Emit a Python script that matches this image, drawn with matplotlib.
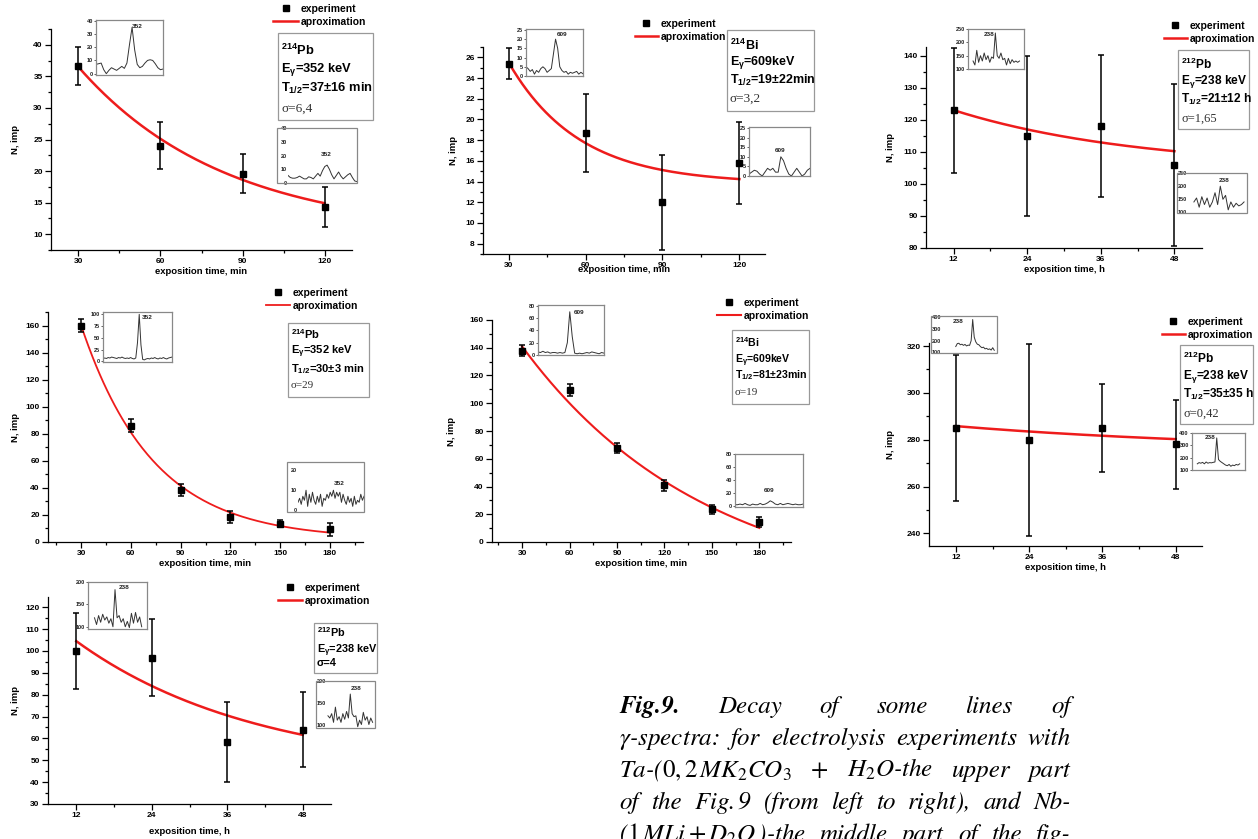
import numpy as np
import matplotlib
matplotlib.use('Agg')
import matplotlib.pyplot as plt
from matplotlib.patches import Rectangle
from matplotlib.ticker import AutoMinorLocator

W, H = 1258, 839

plt.rcParams['font.family'] = ['Liberation Sans', 'DejaVu Sans']
plt.rcParams['font.weight'] = 'normal'
plt.rcParams['mathtext.fontset'] = 'custom'
plt.rcParams['mathtext.rm'] = 'Liberation Sans:bold'
plt.rcParams['mathtext.it'] = 'Liberation Sans:bold'
plt.rcParams['mathtext.bf'] = 'Liberation Sans:bold'

# exposition times
t_min = [30, 60, 90, 120]
t_min6 = [30, 60, 90, 120, 150, 180]
t_hour = [12, 24, 36, 48]

# upper row: Ta-(0,2 M K2CO3 + H2O)
n_pb352_ta = [36.7, 24.0, 19.6, 14.3]
e_pb352_ta = [3.0, 3.7, 3.1, 3.2]
n_bi609_ta = [25.4, 18.7, 12.0, 15.8]
e_bi609_ta = [1.5, 3.8, 4.6, 4.0]
n_pb238_ta = [123, 115, 118, 106]
e_pb238_ta = [19.5, 25, 22.2, 25.3]
# middle row: Nb-(1 M Li + D2O)
n_pb352_nb = [160, 86, 38.5, 18.5, 13.5, 9.5]
e_pb352_nb = [5, 5, 4.5, 4.5, 2.5, 4.8]
n_bi609_nb = [138, 109.5, 67.5, 41, 23.5, 14.5]
e_bi609_nb = [4, 4.2, 3.5, 4, 3.5, 3.5]
n_pb238_nb = [285, 280, 285, 278]
e_pb238_nb = [31, 41, 19, 19]
# bottom row
n_pb238_c = [100, 97, 58.5, 64]
e_pb238_c = [17.5, 17.5, 18.3, 17.3]

# approximation: background, amplitude at first point, half-life
fit_pb352_ta = (10.0, 26.5, 37)
fit_bi609_ta = (13.8, 11.7, 19)
fit_pb238_ta = (104.6, 18.4, 21)
fit_pb352_nb = (2.0, 158, 30)
fit_bi609_nb = (-40, 181, 81)
fit_pb238_nb = (274.9, 10.9, 35)
fit_pb238_c = (44.5, 60, 19.9)

# small spectra (counts per channel around the line)
spec_pb352_ta_a = [7, 7.5, 8, 3, 0, 2.5, 4.5, 3.5, 2.5, 4, 5.5, 4, 8, 22, 35, 18, 7, 4.5, 5.5, 8, 10,
                   10.5, 10, 7.5, 4.5, 3, 3.5]
spec_pb352_ta_b = [5.5, 4, 3.5, 3.5, 4, 5, 4, 3, 3, 4.5, 4, 3, 5, 7, 5, 9, 12, 13, 10, 6, 3, 5.5, 8, 5, 3,
                   4.5, 6, 7, 4, 1.5, 1]
spec_bi609_ta_a = [5, 4, 2.5, 3.5, 1, 3, 2, 4, 5, 4, 2, 3, 4, 12, 20, 15, 5, 3, 2, 2.5, 1, 2, 1.5, 2, 2.5,
                   1, 2, 1.2]
spec_bi609_ta_b = [1, 2, 3, 2.5, 1, 0, 2, 4, 3, 4, 2, 2, 10, 8, 4, 1, 0, 2, 4, 2, 0, 1, 3, 4]
spec_pb238_ta_a = [130, 115, 170, 125, 150, 130, 160, 135, 150, 125, 145, 140, 235, 150, 140, 160, 135,
                   140, 115, 140, 120, 135, 125, 130, 125, 130]
spec_pb238_ta_b = [140, 155, 120, 160, 130, 155, 120, 140, 175, 130, 200, 150, 165, 110, 140, 120, 135,
                   125, 130, 140]
spec_pb352_nb_a = [6, 7, 6, 8, 7, 9, 8, 7, 6, 8, 7, 9, 7, 6, 7, 6, 8, 6, 5, 7, 40, 100, 35, 4, 3, 5, 6, 5,
                   7, 6, 8, 6, 5, 7, 6, 8, 6, 5, 7, 8, 9]
spec_pb352_nb_b = [4, 6, 3, 7, 5, 10, 2, 8, 4, 9, 5, 3, 7, 4, 8, 2, 6, 5, 8, 6, 9, 7, 10, 6, 9, 7, 9, 4,
                   8, 5, 3, 7, 4, 6, 2, 7, 3, 5, 4, 8, 5, 7]
spec_bi609_nb_a = [5, 4, 6, 4, 5, 3, 4, 4, 3, 4, 3, 4, 20, 70, 30, 3, 2, 3, 2, 3, 4, 3, 5, 4, 3, 2, 4, 3]
spec_bi609_nb_b = [2, 2, 3, 2, 4, 2, 1, 3, 2, 2, 4, 2, 3, 5, 8, 6, 3, 2, 4, 2, 3, 4, 3, 2, 3, 2, 2, 3]
spec_pb238_nb_a = [150, 175, 178, 165, 170, 160, 168, 155, 162, 160, 200, 380, 230, 190, 170, 165, 150,
                   140, 145, 130, 135, 125, 130, 120, 140, 118]
spec_pb238_nb_b = [150, 160, 155, 162, 150, 165, 155, 160, 158, 162, 165, 360, 185, 170, 160, 150, 140,
                   135, 145, 130, 140, 135, 145, 140, 150]
spec_pb238_c_a = [120, 105, 125, 110, 128, 115, 122, 108, 118, 100, 183, 120, 125, 110, 118, 100, 112,
                  98, 130, 108, 132, 110, 122, 100]
spec_pb238_c_b = [120, 115, 125, 105, 140, 110, 118, 105, 125, 112, 130, 115, 170, 125, 118, 120, 95,
                  110, 100, 128, 110, 118, 100, 115, 105]

fig = plt.figure(figsize=(W / 100, H / 100), dpi=100)
all_axes = []


def rect(l, t, r, b):
    return [l / W, 1 - b / H, (r - l) / W, (b - t) / H]


def fx(x):
    return x / W


def fy(y):
    return 1 - y / H


def frame(l, t, r, b, color='#999999'):
    fig.add_artist(Rectangle((fx(l), fy(b)), (r - l) / W, (b - t) / H, transform=fig.transFigure,
                             fill=False, edgecolor=color, lw=0.9))


def panel(box, xlim, ylim, xticks, yticks, t, n, err, fit, xlabel, xlab_y, ylab_x, lw, leg):
    l, tp, r, b = box
    ax = fig.add_axes(rect(*box))
    ax.errorbar(t, n, yerr=err, fmt='none', ecolor='black', elinewidth=1.1, capsize=2.5,
                capthick=1.1, zorder=3)
    pts, = ax.plot(t, n, 's', color='black', ms=4.5, zorder=4, label='experiment')
    y0, amp, half = fit
    tt = np.linspace(t[0], t[-1], 200)
    curve, = ax.plot(tt, y0 + amp * 0.5 ** ((tt - t[0]) / half), color='#ee1c1c', lw=lw,
                     zorder=2, label='aproximation')
    ax.set_xlim(xlim)
    ax.set_ylim(ylim)
    ax.set_xticks(xticks)
    ax.set_yticks(yticks)
    ax.xaxis.set_minor_locator(AutoMinorLocator(2))
    ax.yaxis.set_minor_locator(AutoMinorLocator(2))
    for s in ['top', 'right']:
        ax.spines[s].set_visible(False)
    for s in ['left', 'bottom']:
        ax.spines[s].set_linewidth(0.9)
    ax.tick_params(which='both', direction='out', labelsize=6, width=0.9, pad=2)
    ax.tick_params(which='major', length=4)
    ax.tick_params(which='minor', length=2)
    fig.text(fx((l + r) / 2), fy(xlab_y), xlabel, ha='center', va='center', fontsize=6.8,
             weight='bold')
    fig.text(fx(ylab_x), fy((tp + b) / 2), 'N, imp', ha='center', va='center', rotation=90,
             fontsize=6.8, weight='bold')
    lx, ly, hl = leg
    ax.legend(handles=[pts, curve], loc='upper left', bbox_to_anchor=(fx(lx), fy(ly)),
              bbox_transform=fig.transFigure, frameon=False, prop={'size': 7.5, 'weight': 'bold'},
              handlelength=hl, handletextpad=0.25, labelspacing=0.3, borderpad=0, borderaxespad=0)
    all_axes.append(ax)
    return ax


def inset(box, spec, ylim, yticks, label, lpos, inside=False, pads=(0.0, 0.0)):
    l, t, r, b = box
    if inside:
        frame(l, t, r, b, '#888888')
        ax = fig.add_axes(rect(l + 11, t, r, b))
        ax.patch.set_alpha(0)
        for s in ax.spines.values():
            s.set_visible(False)
    else:
        ax = fig.add_axes(rect(l, t, r, b))
        for s in ax.spines.values():
            s.set_color('#888888')
            s.set_linewidth(0.9)
    span = len(spec) - 1
    inner = 1 - pads[0] - pads[1]
    ax.plot(range(len(spec)), spec, color='#333333', lw=0.7)
    ax.set_xlim(-span * pads[0] / inner, span + span * pads[1] / inner)
    ax.set_ylim(ylim)
    ax.set_yticks(yticks)
    ax.set_xticks([])
    ax.tick_params(axis='y', labelsize=4, length=0 if inside else 1.5, pad=0.8, width=0.5,
                   colors='#222222')
    ax.text(lpos[0], lpos[1], label, transform=ax.transAxes, fontsize=4.6, ha='center',
            va='center', color='#222222', weight='bold')
    all_axes.append(ax)
    return ax


def info(box, lines, fs, sfs, bold_sigma=False):
    l, t, r, b = box
    frame(l, t, r, b)
    for txt, y, kind in lines:
        if kind == 'b' or bold_sigma:
            fig.text(fx(l + 3), fy(y), txt, fontsize=fs, va='baseline', ha='left', weight='bold')
        else:
            fig.text(fx(l + 3), fy(y), txt, fontsize=sfs, va='baseline', ha='left',
                     family='Liberation Serif', weight='normal', color='#333333')


# ---- upper row
panel((51, 29, 352, 250), (20, 130), (7.5, 42.5), t_min, [10, 15, 20, 25, 30, 35, 40],
      t_min, n_pb352_ta, e_pb352_ta, fit_pb352_ta, 'exposition time, min', 271, 15, 1.8,
      (273, 4, 2.4))
inset((96, 20, 163, 75), spec_pb352_ta_a, (-1, 40.5), [0, 10, 20, 30, 40], '352', (0.62, 0.88))
inset((277, 128, 357, 183), spec_pb352_ta_b, (0, 40), [0, 10, 20, 30, 40], '352', (0.55, 0.52),
      inside=True)
info((278, 33, 373, 120), [(r'$^{214}$Pb', 55, 'b'), (r'E$_\gamma$=352 keV', 72, 'b'),
                           (r'T$_{1/2}$=37±16 min', 92, 'b'), ('σ=6,4', 112, 's')], 9.3, 9.5)

panel((483, 47, 765, 254), (20, 130), (7, 27), t_min, [8, 10, 12, 14, 16, 18, 20, 22, 24, 26],
      t_min, n_bi609_ta, e_bi609_ta, fit_bi609_ta, 'exposition time, min', 270, 453, 1.8,
      (635, 19, 2.2))
inset((526, 29, 583, 76), spec_bi609_ta_a, (0, 25.5), [0, 5, 10, 15, 20, 25], '609', (0.63, 0.88))
inset((749, 127, 810, 176), spec_bi609_ta_b, (0, 25.5), [0, 5, 10, 15, 20, 25], '609', (0.51, 0.53))
info((727, 30, 814, 111), [(r'$^{214}$Bi', 50, 'b'), (r'E$_\gamma$=609keV', 65, 'b'),
                           (r'T$_{1/2}$=19±22min', 84, 'b'), ('σ=3,2', 102, 's')], 9.0, 9.5)

panel((926, 47, 1202, 248), (7.5, 52.5), (80, 142.7), t_hour, [80, 90, 100, 110, 120, 130, 140],
      t_hour, n_pb238_ta, e_pb238_ta, fit_pb238_ta, 'exposition time, h', 269, 890, 1.8,
      (1164, 21, 2.2))
inset((968, 29, 1024, 69), spec_pb238_ta_a, (100, 250), [100, 150, 200, 250], '238', (0.38, 0.87),
      pads=(0.09, 0.08))
inset((1177, 173, 1247, 213), spec_pb238_ta_b, (98, 250), [100, 150, 200, 250], '238', (0.62, 0.81),
      inside=True, pads=(0.1, 0.05))
info((1178, 50, 1249, 129), [(r'$^{212}$Pb', 69, 'b'), (r'E$_\gamma$=238 keV', 84, 'b'),
                             (r'T$_{1/2}$=21±12 h', 103, 'b'), ('σ=1,65', 122, 's')], 8.6, 9)

# ---- middle row
panel((48, 312, 363, 542), (10, 200), (0, 170), t_min6, [0, 20, 40, 60, 80, 100, 120, 140, 160],
      t_min6, n_pb352_nb, e_pb352_nb, fit_pb352_nb, 'exposition time, min', 564, 15, 1.3,
      (266, 288, 2.3))
inset((103, 312, 172, 362), spec_pb352_nb_a, (-1.5, 105), [0, 25, 50, 75, 100], '352', (0.64, 0.89))
inset((287, 462, 364, 512), spec_pb352_nb_b, (-0.8, 24), [0, 10, 20], '352', (0.62, 0.57),
      inside=True)
info((288, 323, 369, 397), [(r'$^{214}$Pb', 339, 'b'), (r'E$_\gamma$=352 keV', 354, 'b'),
                            (r'T$_{1/2}$=30±3 min', 372, 'b'), ('σ=29', 388, 's')], 8.0, 8)

panel((492, 320, 791, 542), (11, 200), (0, 160), t_min6, [0, 20, 40, 60, 80, 100, 120, 140, 160],
      t_min6, n_bi609_nb, e_bi609_nb, fit_bi609_nb, 'exposition time, min', 564, 452, 1.5,
      (717, 298, 2.3))
inset((538, 305, 604, 355), spec_bi609_nb_a, (0, 81), [0, 20, 40, 60, 80], '609', (0.62, 0.86))
inset((735, 454, 803, 507), spec_bi609_nb_b, (-1.5, 80), [0, 20, 40, 60, 80], '609', (0.5, 0.32))
info((732, 330, 809, 404), [(r'$^{214}$Bi', 347, 'b'), (r'E$_\gamma$=609keV', 363, 'b'),
                            (r'T$_{1/2}$=81±23min', 378, 'b'), ('σ=19', 395, 's')], 7.6, 8)

panel((929, 343, 1202, 546), (7.6, 52.3), (234.6, 321.3), t_hour, [240, 260, 280, 300, 320],
      t_hour, n_pb238_nb, e_pb238_nb, fit_pb238_nb, 'exposition time, h', 567, 890, 1.8,
      (1162, 317, 2.2))
inset((931, 316, 997, 353), spec_pb238_nb_a, (95, 410), [100, 200, 300, 400], '238', (0.3, 0.85),
      inside=True, pads=(0.25, 0.05))
inset((1192, 433, 1245, 470), spec_pb238_nb_b, (100, 400), [100, 200, 300, 400], '238', (0.34, 0.87),
      pads=(0.1, 0.1))
info((1180, 345, 1253, 424), [(r'$^{212}$Pb', 363, 'b'), (r'E$_\gamma$=238 keV', 379, 'b'),
                              (r'T$_{1/2}$=35±35 h', 398, 'b'), ('σ=0,42', 417, 's')], 8.6, 9)

# ---- bottom row
panel((48, 597, 331, 804), (7.5, 52.5), (30, 124.7), t_hour, [30, 40, 50, 60, 70, 80, 90, 100, 110, 120],
      t_hour, n_pb238_c, e_pb238_c, fit_pb238_c, 'exposition time, h', 832, 15, 1.8,
      (278, 583, 2.3))
inset((88, 582, 147, 629), spec_pb238_c_a, (95, 200), [100, 150, 200], '238', (0.62, 0.89),
      pads=(0.11, 0.09))
inset((316, 681, 375, 728), spec_pb238_c_b, (92, 200), [100, 150, 200], '238', (0.6, 0.84),
      inside=True, pads=(0.02, 0.05))
info((314, 623, 377, 673), [(r'$^{212}$Pb', 637, 'b'), (r'E$_\gamma$=238 keV', 653, 'b'),
                            ('σ=4', 666, 'b')], 7.8, 7.8)

# bold tick labels
fig.canvas.draw()
for ax in all_axes:
    for lab in ax.get_xticklabels() + ax.get_yticklabels():
        lab.set_fontweight('bold')

# ---- caption, justified between x=619 and x=1071
caption_lines = [
    ['Fig.9.', 'Decay', 'of', 'some', 'lines', 'of'],
    [r'$\gamma$-spectra:', 'for', 'electrolysis', 'experiments', 'with'],
    [r'Ta-($0,2\,MK_2CO_3$', '$+$', '$H_2O$-the', 'upper', 'part'],
    ['of', 'the', r'Fig.$\,$9', '(from', 'left', 'to', 'right),', 'and', 'Nb-'],
    [r'($1\,MLi+D_2O\,$)-the', 'middle', 'part', 'of', 'the', 'fig-'],
]
caption_base = [713, 745, 777, 809, 841]
cap_left, cap_right = 619, 1071

renderer = fig.canvas.get_renderer()
for words, base in zip(caption_lines, caption_base):
    texts = []
    for w in words:
        bold = (w == 'Fig.9.')
        tx = fig.text(0, fy(base), w, fontsize=18, family='STIXGeneral', style='italic',
                      weight='bold' if bold else 'normal', math_fontfamily='stix',
                      va='baseline', ha='left', color='black')
        texts.append(tx)
    widths = [tx.get_window_extent(renderer).width for tx in texts]
    gap = (cap_right - cap_left - sum(widths)) / (len(words) - 1)
    x = cap_left
    for tx, wd in zip(texts, widths):
        tx.set_x(fx(x))
        x += wd + gap

fig.savefig('out.png', dpi=100)
